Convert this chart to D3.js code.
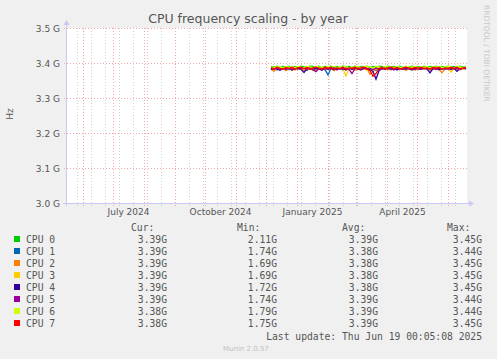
<!DOCTYPE html>
<html><head><meta charset="utf-8">
<script src="https://cdn.jsdelivr.net/npm/d3@7"></script>
<style>html,body{margin:0;padding:0;background:#F0F0F0;}svg{display:block;}</style>
</head><body>
<svg id="c" width="497" height="359"></svg>
<script>
// ---- data ----
const cpuNames = ["CPU 0","CPU 1","CPU 2","CPU 3","CPU 4","CPU 5","CPU 6","CPU 7"];
const cpuColors = ["#00CC00","#0066B3","#FF8000","#FFCC00","#330099","#990099","#CCFF00","#FF0000"];
const dataStart = "2024-12-06";   // first sample date
const sampleStepDays = 3;          // one sample every 3 days
const cpu0 = [3.390,3.388,3.391,3.387,3.390,3.389,3.391,3.386,3.390,3.388,
              3.391,3.389,3.387,3.391,3.390,3.388,3.391,3.386,3.390,3.389,
              3.391,3.388,3.390,3.387,3.391,3.389,3.390,3.386,3.391,3.388,
              3.390,3.389,3.391,3.387,3.390,3.388,3.391,3.390,3.386,3.391,
              3.389,3.390,3.388,3.391,3.387,3.390,3.389,3.391,3.388,3.390,
              3.386,3.391,3.389,3.390,3.388,3.391,3.387,3.390,3.389,3.391,
              3.388,3.390,3.389,3.391,3.388,3.390];
const cpu1 = [3.384,3.387,3.380,3.386,3.383,3.388,3.381,3.385,3.387,3.382,
              3.386,3.384,3.379,3.387,3.385,3.382,3.386,3.384,3.381,3.366,
              3.385,3.387,3.383,3.386,3.380,3.385,3.387,3.382,3.386,3.384,
              3.381,3.387,3.385,3.383,3.386,3.379,3.385,3.387,3.383,3.386,
              3.384,3.381,3.387,3.385,3.382,3.386,3.384,3.388,3.381,3.385,
              3.387,3.383,3.386,3.380,3.385,3.387,3.382,3.386,3.384,3.387,
              3.383,3.386,3.381,3.385,3.387,3.384];
const cpu2 = [3.383,3.376,3.386,3.381,3.385,3.378,3.386,3.383,3.380,3.386,
              3.384,3.379,3.386,3.382,3.385,3.377,3.386,3.383,3.381,3.386,
              3.384,3.378,3.386,3.382,3.385,3.380,3.386,3.383,3.379,3.385,
              3.386,3.382,3.384,3.368,3.374,3.385,3.381,3.386,3.383,3.385,
              3.380,3.386,3.384,3.382,3.386,3.379,3.385,3.383,3.386,3.381,
              3.385,3.383,3.386,3.380,3.384,3.386,3.382,3.372,3.383,3.385,
              3.381,3.386,3.384,3.382,3.385,3.383];
const cpu3 = [3.386,3.382,3.385,3.380,3.386,3.383,3.385,3.379,3.386,3.384,
              3.381,3.386,3.383,3.385,3.378,3.386,3.384,3.382,3.386,3.383,
              3.385,3.380,3.386,3.384,3.382,3.363,3.383,3.386,3.381,3.385,
              3.383,3.386,3.379,3.385,3.384,3.382,3.386,3.383,3.385,3.380,
              3.386,3.384,3.382,3.386,3.381,3.385,3.383,3.386,3.380,3.385,
              3.384,3.386,3.382,3.385,3.383,3.386,3.381,3.385,3.384,3.386,
              3.374,3.385,3.383,3.386,3.382,3.385];
const cpu4 = [3.381,3.385,3.383,3.379,3.386,3.382,3.385,3.380,3.384,3.386,
              3.382,3.373,3.384,3.386,3.381,3.385,3.383,3.379,3.386,3.382,
              3.385,3.381,3.386,3.383,3.384,3.380,3.386,3.382,3.385,3.383,
              3.380,3.386,3.384,3.381,3.376,3.354,3.378,3.385,3.382,3.386,
              3.383,3.385,3.380,3.386,3.382,3.385,3.383,3.380,3.386,3.384,
              3.382,3.386,3.383,3.372,3.384,3.386,3.381,3.385,3.383,3.386,
              3.382,3.385,3.376,3.384,3.386,3.383];
const cpu5 = [3.385,3.382,3.386,3.380,3.385,3.383,3.386,3.381,3.385,3.384,
              3.382,3.386,3.383,3.385,3.381,3.375,3.384,3.386,3.382,3.385,
              3.383,3.386,3.380,3.385,3.383,3.386,3.382,3.370,3.384,3.386,
              3.382,3.385,3.383,3.386,3.381,3.385,3.384,3.382,3.386,3.383,
              3.385,3.380,3.386,3.383,3.385,3.382,3.386,3.384,3.381,3.385,
              3.383,3.386,3.382,3.385,3.384,3.381,3.386,3.383,3.385,3.382,
              3.386,3.383,3.385,3.381,3.386,3.384];
const cpu6 = [3.389,3.387,3.390,3.388,3.386,3.390,3.388,3.389,3.387,3.390,
              3.388,3.386,3.390,3.389,3.387,3.390,3.388,3.389,3.386,3.390,
              3.388,3.390,3.387,3.389,3.388,3.390,3.386,3.389,3.388,3.390,
              3.387,3.389,3.390,3.388,3.386,3.390,3.389,3.387,3.390,3.388,
              3.389,3.387,3.390,3.388,3.386,3.390,3.389,3.388,3.390,3.387,
              3.389,3.388,3.390,3.386,3.389,3.388,3.390,3.387,3.389,3.390,
              3.388,3.386,3.390,3.389,3.387,3.390];
const cpu7 = [3.387,3.383,3.388,3.385,3.382,3.387,3.384,3.388,3.383,3.386,
              3.388,3.384,3.387,3.382,3.386,3.388,3.385,3.383,3.387,3.385,
              3.388,3.383,3.386,3.384,3.388,3.382,3.386,3.385,3.387,3.383,
              3.386,3.388,3.384,3.378,3.362,3.370,3.384,3.387,3.383,3.386,
              3.388,3.384,3.387,3.382,3.386,3.388,3.385,3.383,3.387,3.385,
              3.388,3.384,3.386,3.383,3.387,3.385,3.388,3.382,3.386,3.384,
              3.387,3.385,3.388,3.383,3.386,3.387];
const cpuSeries = [cpu0,cpu1,cpu2,cpu3,cpu4,cpu5,cpu6,cpu7];
const statCur = ["3.39G","3.39G","3.39G","3.39G","3.39G","3.39G","3.38G","3.38G"];
const statMin = ["2.11G","1.74G","1.69G","1.69G","1.72G","1.74G","1.79G","1.75G"];
const statAvg = ["3.39G","3.38G","3.38G","3.38G","3.38G","3.39G","3.39G","3.39G"];
const statMax = ["3.45G","3.44G","3.45G","3.45G","3.45G","3.44G","3.44G","3.45G"];
const yTicks = [3.0,3.1,3.2,3.3,3.4,3.5];
const xLabelMonths = ["2024-07-01","2024-10-01","2025-01-01","2025-04-01"];
const rangeStart = "2024-05-15T00:05:08Z";
const rangeEnd = "2025-06-19T00:05:08Z";
const titleText = "CPU frequency scaling - by year";
const lastUpdate = "Last update: Thu Jun 19 00:05:08 2025";

// ---- drawing ----
const svg = d3.select("#c");
const L = 66, R = 466, T = 28, B = 203;
const x = d3.scaleUtc().domain([new Date(rangeStart), new Date(rangeEnd)]).range([L, R]);
const y = d3.scaleLinear().domain([3.0, 3.5]).range([B, T]);
const sans = "'DejaVu Sans', sans-serif", mono = "'DejaVu Sans Mono', monospace";

svg.append("rect").attr("x",0).attr("y",0).attr("width",497).attr("height",359).attr("fill","#F0F0F0");
svg.append("rect").attr("x",L).attr("y",T).attr("width",R-L+1).attr("height",B-T).attr("fill","#FFFFFF");

// minor vertical grid every 2 weeks
const minor = d3.utcDay.range(new Date("2024-05-26T00:00:00Z"), x.domain()[1], 14);
svg.append("g").selectAll("line").data(minor).join("line")
  .attr("x1",d=>Math.round(x(d))+0.5).attr("x2",d=>Math.round(x(d))+0.5)
  .attr("y1",T).attr("y2",B+3)
  .attr("stroke","#D0D0D0").attr("stroke-dasharray","1,2");
// major vertical grid monthly
const major = d3.utcMonth.range(x.domain()[0], x.domain()[1]);
svg.append("g").selectAll("line").data(major).join("line")
  .attr("x1",d=>Math.round(x(d))+0.5).attr("x2",d=>Math.round(x(d))+0.5)
  .attr("y1",T).attr("y2",B+3)
  .attr("stroke","#F0A8A8").attr("stroke-dasharray","1,2");
// horizontal grid
svg.append("g").selectAll("line").data(yTicks.slice(1)).join("line")
  .attr("x1",L-2).attr("x2",R+1)
  .attr("y1",d=>Math.round(y(d))+0.5).attr("y2",d=>Math.round(y(d))+0.5)
  .attr("stroke","#F0A8A8").attr("stroke-dasharray","1,2");

// y axis labels
const yAxis = d3.axisLeft(y).tickValues(yTicks).tickSize(0).tickPadding(6)
  .tickFormat(d=>d3.format(".1f")(d)+" G");
const gy = svg.append("g").attr("transform",`translate(${L},0.5)`).call(yAxis);
gy.select(".domain").remove();
gy.selectAll("text").attr("font-family",sans).attr("font-size","9px").attr("fill","#555");

// x labels (centred mid-month)
const gx = svg.append("g").attr("transform",`translate(0,${B})`)
  .call(d3.axisBottom(x).tickValues(xLabelMonths.map(s=>d3.utcDay.offset(new Date(s+"T00:00:00Z"),15)))
  .tickSize(0).tickPadding(6).tickFormat(d3.utcFormat("%B %Y")));
gx.select(".domain").remove();
gx.selectAll("text").attr("font-family",sans).attr("font-size","9px").attr("fill","#555");

// series
const dates = cpu0.map((_,i)=>d3.utcDay.offset(new Date(dataStart+"T00:00:00Z"), i*sampleStepDays));
const line = d3.line().x((d,i)=>x(dates[i])).y(d=>y(d));
cpuSeries.forEach((s,k)=>{
  svg.append("path").datum(s).attr("d",line).attr("fill","none")
    .attr("stroke",cpuColors[k]).attr("stroke-width",1.3);
});

// axes lines with arrows
const axC = "#C8C8F4";
svg.append("line").attr("x1",L+0.5).attr("x2",L+0.5).attr("y1",B+3).attr("y2",T-4).attr("stroke",axC);
svg.append("line").attr("x1",L-3).attr("x2",R+4).attr("y1",B+0.5).attr("y2",B+0.5).attr("stroke",axC);
svg.append("path").attr("d",`M${L-2.5},${T-3} L${L+3.5},${T-3} L${L+0.5},${T-8} Z`).attr("fill",axC);
svg.append("path").attr("d",`M${R+3},${B-2.5} L${R+3},${B+3.5} L${R+8},${B+0.5} Z`).attr("fill",axC);

// title
svg.append("text").attr("x",248).attr("y",23).attr("text-anchor","middle")
  .attr("font-family",sans).attr("font-size","12.5px").attr("fill","#555").text(titleText);
// y label
svg.append("text").attr("transform","translate(13,114) rotate(-90)").attr("text-anchor","middle")
  .attr("font-family",sans).attr("font-size","9px").attr("fill","#555").text("Hz");
// watermark
svg.append("text").attr("transform","translate(484,5) rotate(90)").attr("text-anchor","start")
  .attr("font-family",sans).attr("font-size","7.5px").attr("fill","#C8C8C8").text("RRDTOOL / TOBI OETIKER");

// legend
const lg = svg.append("g").attr("font-family",mono).attr("font-size","9.7px").attr("fill","#555");
lg.append("text").attr("x",131).attr("y",231).text("Cur:");
lg.append("text").attr("x",237).attr("y",231).text("Min:");
lg.append("text").attr("x",342).attr("y",231).text("Avg:");
lg.append("text").attr("x",447).attr("y",231).text("Max:");
cpuNames.forEach((n,i)=>{
  const by = 243 + 12*i;
  svg.append("rect").attr("x",14).attr("y",by-7).attr("width",6).attr("height",6).attr("fill",cpuColors[i]);
  lg.append("text").attr("x",26).attr("y",by).text(n);
  lg.append("text").attr("x",167).attr("y",by).attr("text-anchor","end").text(statCur[i]);
  lg.append("text").attr("x",277).attr("y",by).attr("text-anchor","end").text(statMin[i]);
  lg.append("text").attr("x",378).attr("y",by).attr("text-anchor","end").text(statAvg[i]);
  lg.append("text").attr("x",482).attr("y",by).attr("text-anchor","end").text(statMax[i]);
});
lg.append("text").attr("x",482).attr("y",340).attr("text-anchor","end").text(lastUpdate);
svg.append("text").attr("x",223).attr("y",351).attr("font-family",sans).attr("font-size","7px")
  .attr("fill","#C0C0C0").text("Munin 2.0.57");
</script>
</body></html>
